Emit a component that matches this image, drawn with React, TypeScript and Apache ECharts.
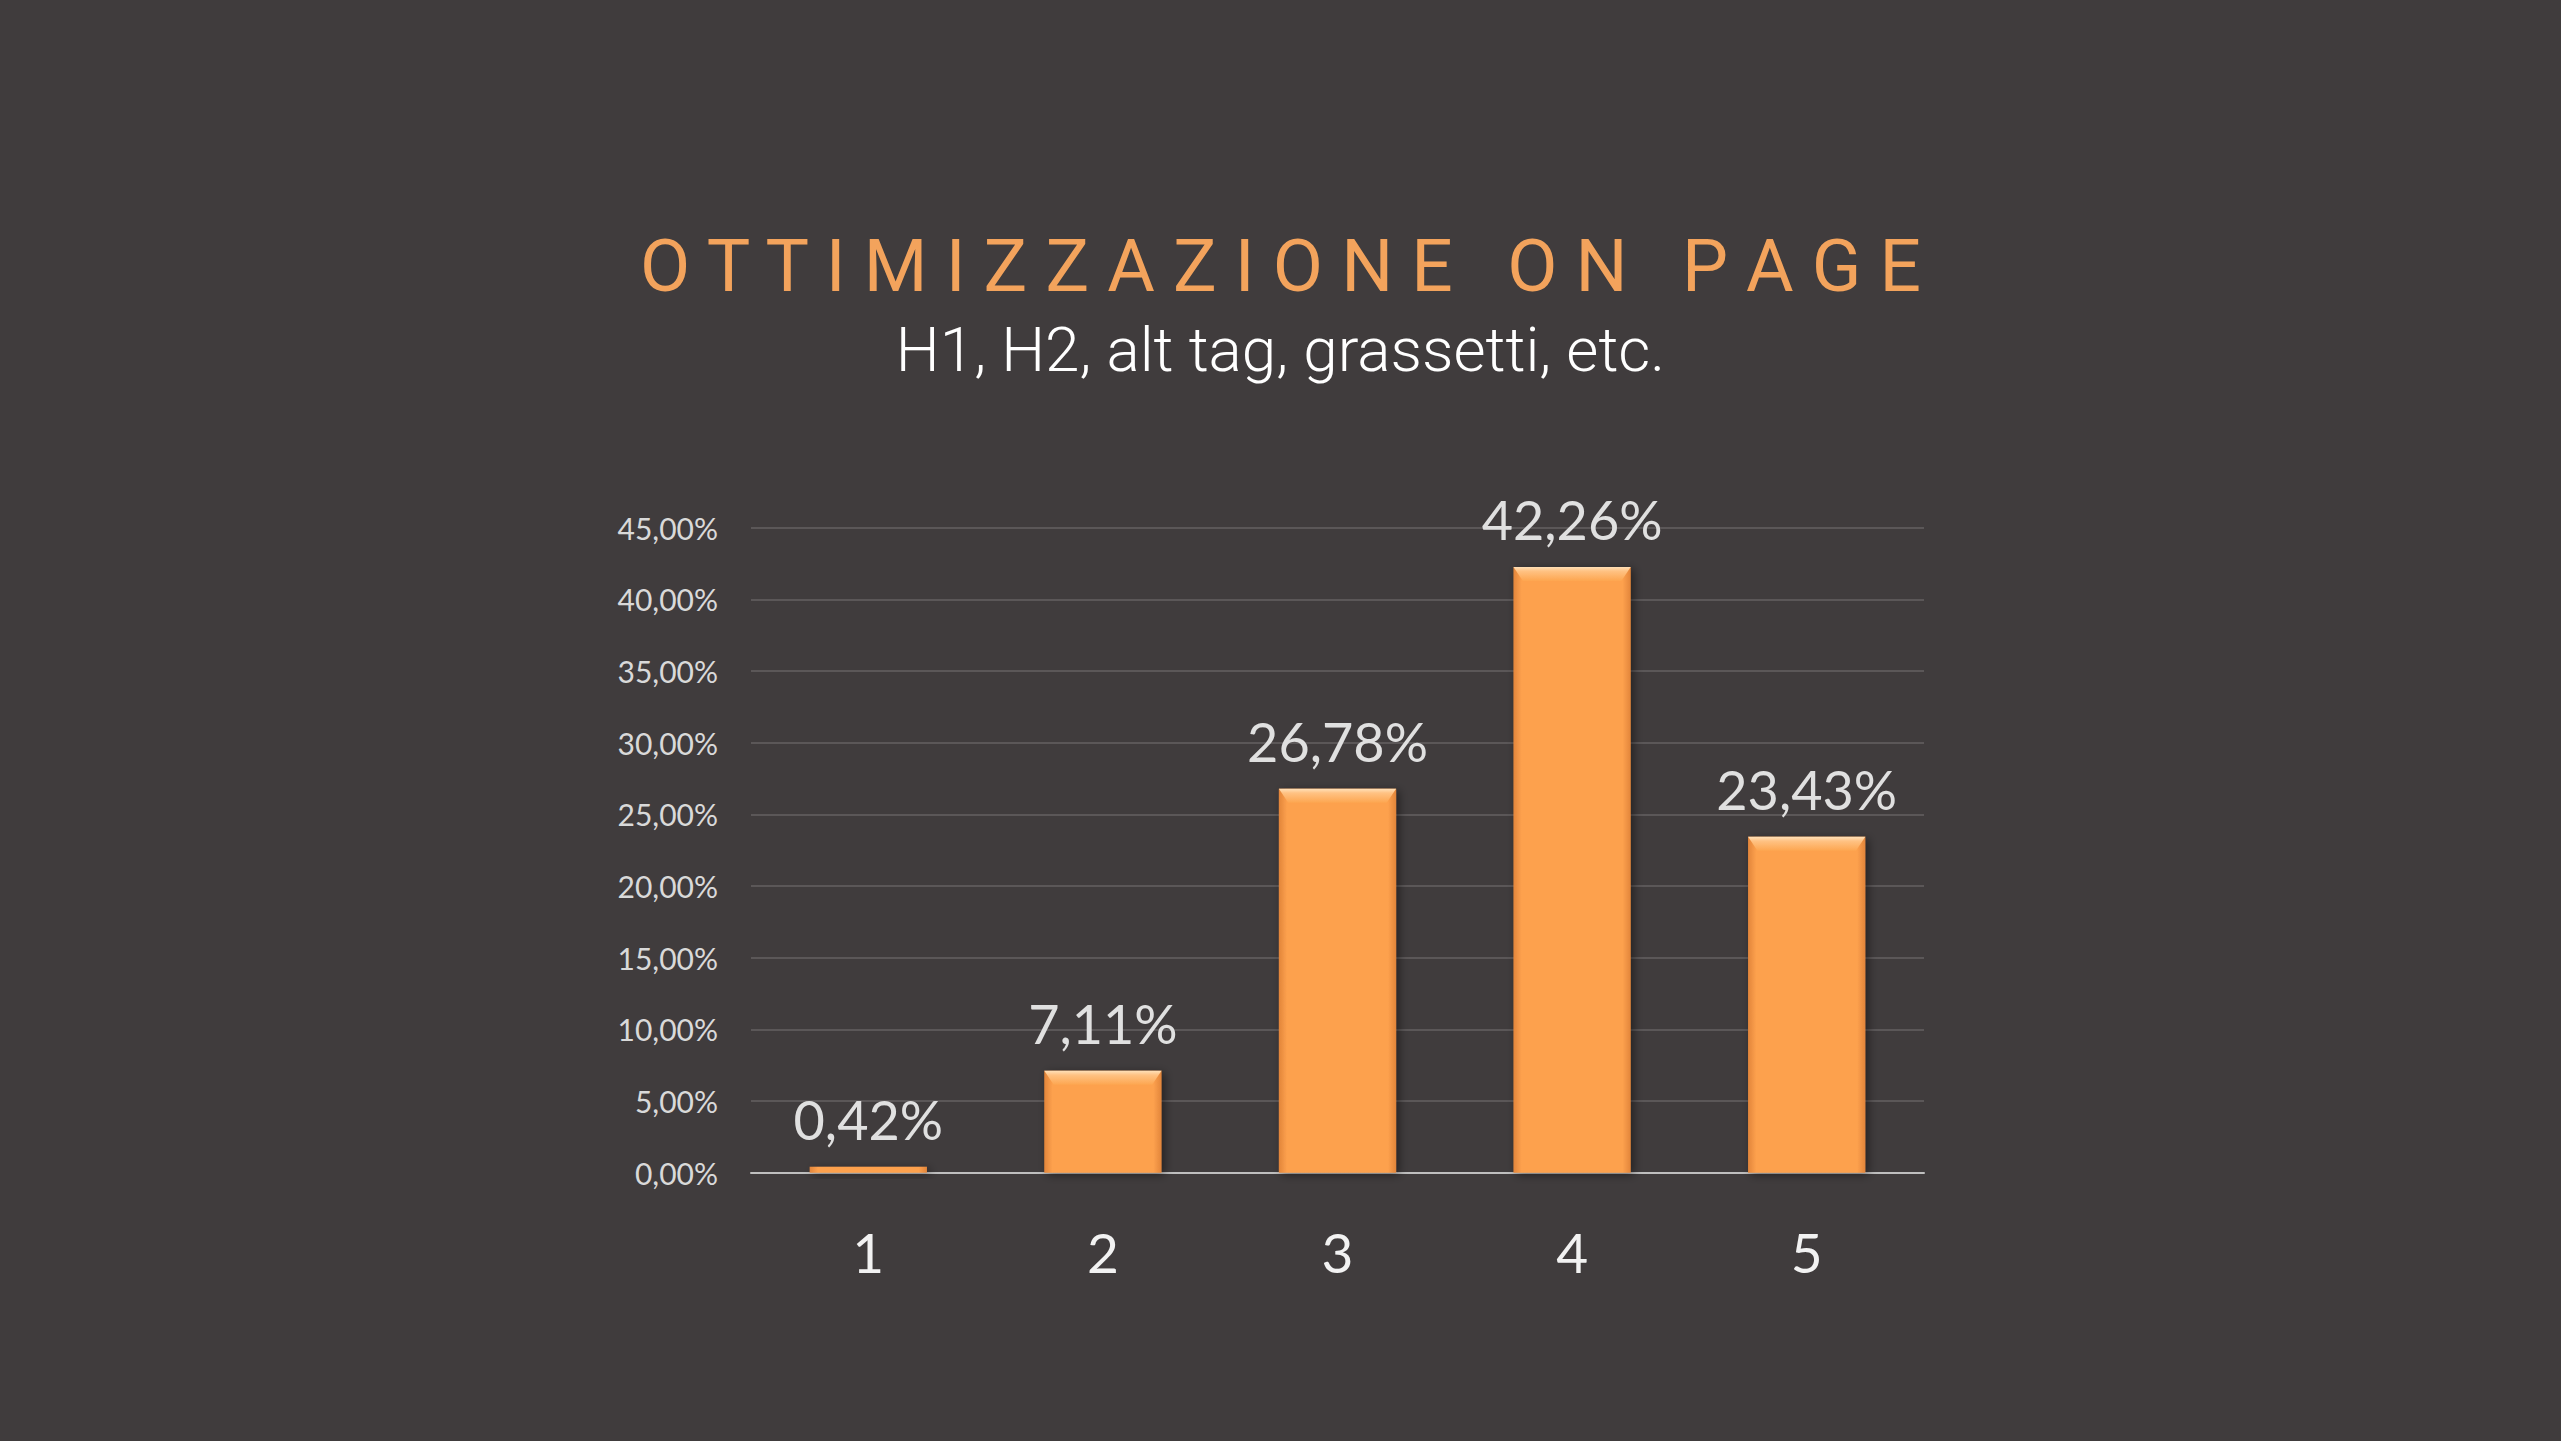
import { useEffect, useRef } from "react";
import * as echarts from "echarts";

const CATEGORIES = ["1", "2", "3", "4", "5"];
const VALUES = [0.0042, 0.0711, 0.2678, 0.4226, 0.2343];
const Y_MIN = 0;
const Y_MAX = 0.45;
const Y_STEP = 0.05;
const TITLE = "OTTIMIZZAZIONE ON PAGE";
const SUBTITLE = "H1, H2, alt tag, grassetti, etc.";

const BG = "#403c3d";
const ORANGE = "#f3a35c";
const LABEL_FONT = "Lato, 'Open Sans', sans-serif";

// spread the letters out the way the slide title is tracked
const spaced = (s: string) => s.split(" ").map((w) => w.split("").join(" ")).join("   ");
const pct = (v: number) => (v * 100).toFixed(2).replace(".", ",") + "%";

export default function App() {
  const ref = useRef<HTMLDivElement>(null);

  useEffect(() => {
    if (!ref.current) return;
    const chart = echarts.init(ref.current, null, { renderer: "svg" });
    chart.setOption({
      animation: false,
      backgroundColor: BG,
      title: [
        {
          text: spaced(TITLE), left: "center", top: 224,
          textStyle: { fontFamily: "Roboto, sans-serif", fontWeight: 400, fontSize: 73, color: ORANGE },
        },
        {
          text: SUBTITLE, left: "center", top: 313,
          textStyle: { fontFamily: "Roboto, sans-serif", fontWeight: 300, fontSize: 62, color: "#ffffff" },
        },
      ],
      grid: { left: 751, right: 637, top: 527.6, bottom: 268.2 },
      xAxis: {
        type: "category", data: CATEGORIES,
        axisLine: { lineStyle: { color: "#bfbfbf", width: 2 } },
        axisTick: { show: false },
        axisLabel: { fontFamily: LABEL_FONT, fontSize: 55, color: "#f2f2f2", margin: 52 },
      },
      yAxis: {
        type: "value", min: Y_MIN, max: Y_MAX, interval: Y_STEP,
        axisLine: { show: false }, axisTick: { show: false },
        axisLabel: { fontFamily: LABEL_FONT, fontSize: 30, color: "#d9d9d9", margin: 33, formatter: pct },
        splitLine: { lineStyle: { color: "#5b5758", width: 2 } },
      },
      series: [
        {
          type: "bar", data: VALUES, barCategoryGap: "50%",
          itemStyle: {
            color: new echarts.graphic.LinearGradient(0, 0, 1, 0, [
              { offset: 0, color: "#e2853a" },
              { offset: 0.07, color: "#fda14e" },
              { offset: 0.93, color: "#fda14e" },
              { offset: 1, color: "#e2853a" },
            ]),
            shadowColor: "rgba(0,0,0,0.45)", shadowBlur: 10, shadowOffsetX: 3, shadowOffsetY: 2,
          },
          label: {
            show: true, position: "top", distance: 20, formatter: (p: any) => pct(p.value),
            fontFamily: LABEL_FONT, fontSize: 54, color: "#e0e0e0",
          },
        },
        {
          // bevelled cap on top of each bar; skipped where the bar is too thin to carry it
          type: "pictorialBar", silent: true, z: 3, barCategoryGap: "50%",
          data: VALUES.map((v) => (v < 0.01 ? "-" : v)),
          symbol: "path://M0,0 L100,0 L92,10 L8,10 Z",
          symbolSize: ["100%", 14], symbolPosition: "end",
          itemStyle: {
            color: new echarts.graphic.LinearGradient(0, 0, 0, 1, [
              { offset: 0, color: "#ffe0b8" },
              { offset: 0.3, color: "#ffc283" },
              { offset: 1, color: "#fda650" },
            ]),
          },
        },
      ],
    });
    return () => chart.dispose();
  }, []);

  return <div ref={ref} style={{ position: "fixed", left: 0, top: 0, width: 2561, height: 1441 }} />;
}
